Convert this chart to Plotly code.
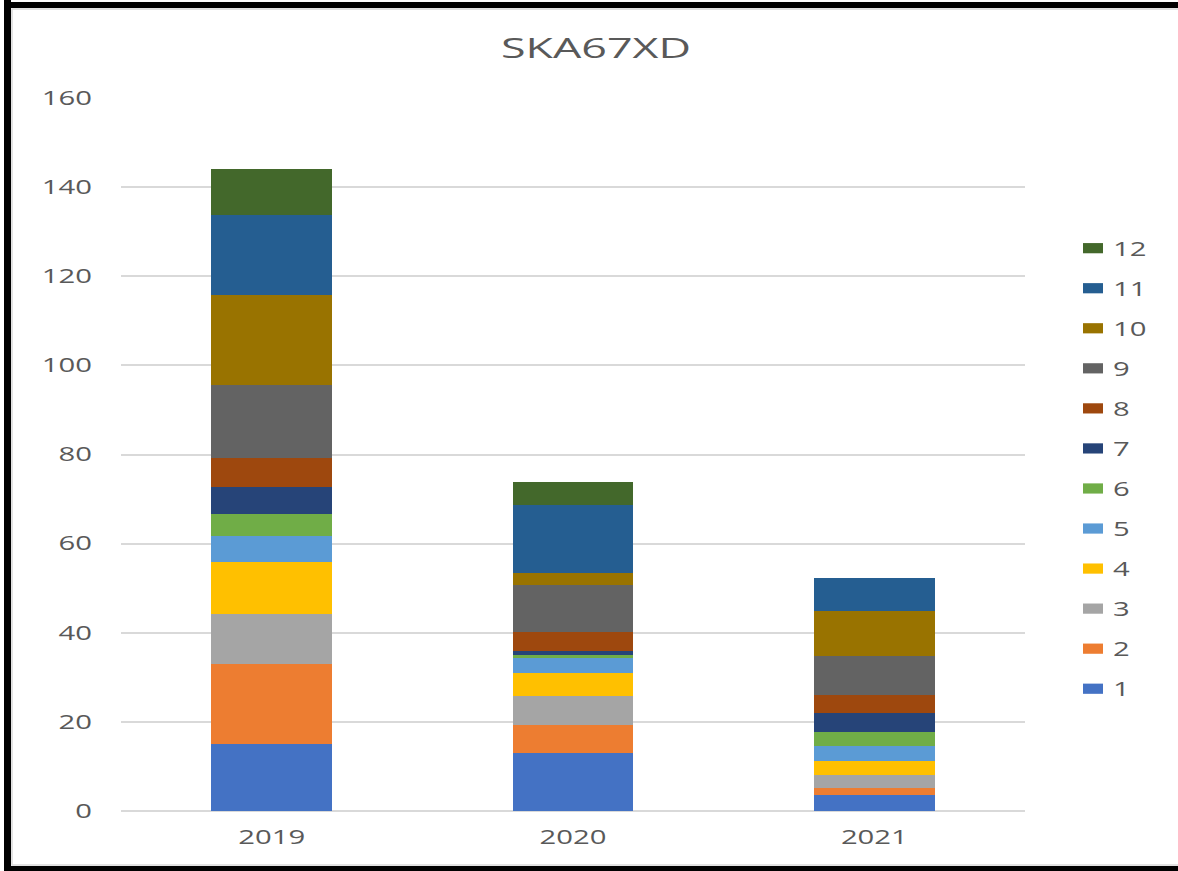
import plotly.graph_objects as go

# Categories and stacked series (one list per series, values per year)
years = ["2019", "2020", "2021"]
series_names = ["1", "2", "3", "4", "5", "6", "7", "8", "9", "10", "11", "12"]

s1 = [15.0, 13.0, 3.6]
s2 = [18.0, 6.4, 1.5]
s3 = [11.2, 6.3, 3.0]
s4 = [11.7, 5.2, 3.1]
s5 = [5.8, 3.5, 3.4]
s6 = [5.0, 0.6, 3.1]
s7 = [6.0, 1.0, 4.3]
s8 = [6.5, 4.1, 4.0]
s9 = [16.5, 10.7, 8.7]
s10 = [20.0, 2.6, 10.2]
s11 = [18.1, 15.3, 7.3]
s12 = [10.2, 5.1, 0.0]
series_values = [s1, s2, s3, s4, s5, s6, s7, s8, s9, s10, s11, s12]

y_ticks = [0, 20, 40, 60, 80, 100, 120, 140, 160]

colors = ["#4472C4", "#ED7D31", "#A5A5A5", "#FFC000", "#5B9BD5", "#70AD47",
          "#264478", "#9E480E", "#636363", "#997300", "#255E91", "#43682B"]

W, H = 1178, 871
ML, MR, MT, MB = 121, 153, 98, 60
PW, PH = W - ML - MR, H - MT - MB
TEXT = "#595959"
GRID = "#D9D9D9"
FONT = "Open Sans"

fig = go.Figure()
n = len(series_names)
for i, (name, vals, col) in enumerate(zip(series_names, series_values, colors)):
    fig.add_trace(go.Bar(
        x=years, y=vals, name=name, legendgroup=name, legendrank=n - i,
        marker=dict(color=col, line=dict(width=0)),
    ))


def px_x(v):
    return (v - ML) / PW


def px_y(v):
    return (H - MB - v) / PH


shapes = [
    # light chart-area frame
    dict(type="rect", xref="paper", yref="paper",
         x0=px_x(12), x1=px_x(1190), y0=px_y(865), y1=px_y(9),
         line=dict(color=GRID, width=1.5), layer="below"),
    # heavy outer frame (left, top, bottom)
    dict(type="line", xref="paper", yref="paper",
         x0=px_x(7.5), x1=px_x(7.5), y0=px_y(0), y1=px_y(H + 5),
         line=dict(color="black", width=7)),
    dict(type="line", xref="paper", yref="paper",
         x0=px_x(4), x1=px_x(W + 10), y0=px_y(5), y1=px_y(5),
         line=dict(color="black", width=6)),
    dict(type="line", xref="paper", yref="paper",
         x0=px_x(4), x1=px_x(W + 10), y0=px_y(869), y1=px_y(869),
         line=dict(color="black", width=6)),
]

fig.update_layout(
    width=W, height=H,
    margin=dict(l=ML, r=MR, t=MT, b=MB, autoexpand=False),
    paper_bgcolor="white", plot_bgcolor="white",
    barmode="stack", bargap=0.6,
    font=dict(family=FONT, size=19.5, color=TEXT),
    title=dict(text="SKA67XD", x=596 / W, xref="container", xanchor="center",
               y=1 - 48 / H, yref="container", yanchor="middle",
               font=dict(family=FONT, size=28, color=TEXT)),
    xaxis=dict(showgrid=False, showline=False, zeroline=False, ticks="",
               ticklabelstandoff=12, tickfont=dict(size=19.5, color=TEXT)),
    yaxis=dict(range=[0, 160], tickvals=y_ticks, showline=False,
               gridcolor=GRID, gridwidth=1.5, zeroline=True,
               zerolinecolor=GRID, zerolinewidth=1.5, ticks="",
               ticklabelstandoff=28, tickfont=dict(size=19.5, color=TEXT)),
    legend=dict(xref="container", x=1073 / W, xanchor="left",
                yref="container", y=1 - 229 / H, yanchor="top",
                traceorder="grouped", tracegroupgap=11.7, maxheight=760,
                font=dict(size=19.5, color=TEXT), bgcolor="rgba(0,0,0,0)"),
    shapes=shapes,
    showlegend=True,
)

# Widen the glyphs horizontally, as in the original wide chart lettering,
# and draw the legend keys as wide, flat swatches.
stretch_js = """
var gd = document.getElementById('{plot_id}');
function widenText() {
  gd.querySelectorAll('text').forEach(function (t) {
    if (t.getAttribute('data-wide')) { return; }
    var f = t.classList.contains('gtitle') ? 1.6 : 1.5;
    var w = t.getComputedTextLength();
    if (w > 0) {
      t.setAttribute('textLength', (w * f).toFixed(1));
      t.setAttribute('lengthAdjust', 'spacingAndGlyphs');
      t.setAttribute('data-wide', '1');
    }
  });
  gd.querySelectorAll('.legendpoints path').forEach(function (p) {
    if (p.getAttribute('data-wide')) { return; }
    var tr = p.getAttribute('transform') || '';
    p.setAttribute('transform', tr + ' scale(1.67,0.85)');
    p.setAttribute('data-wide', '1');
  });
  gd.querySelectorAll('.legend .scrollbox, .legend').forEach(function (g) {
    g.removeAttribute('clip-path');
  });
}
widenText();
gd.on('plotly_afterplot', widenText);
"""

fig.write_html("out.html", post_script=stretch_js)
